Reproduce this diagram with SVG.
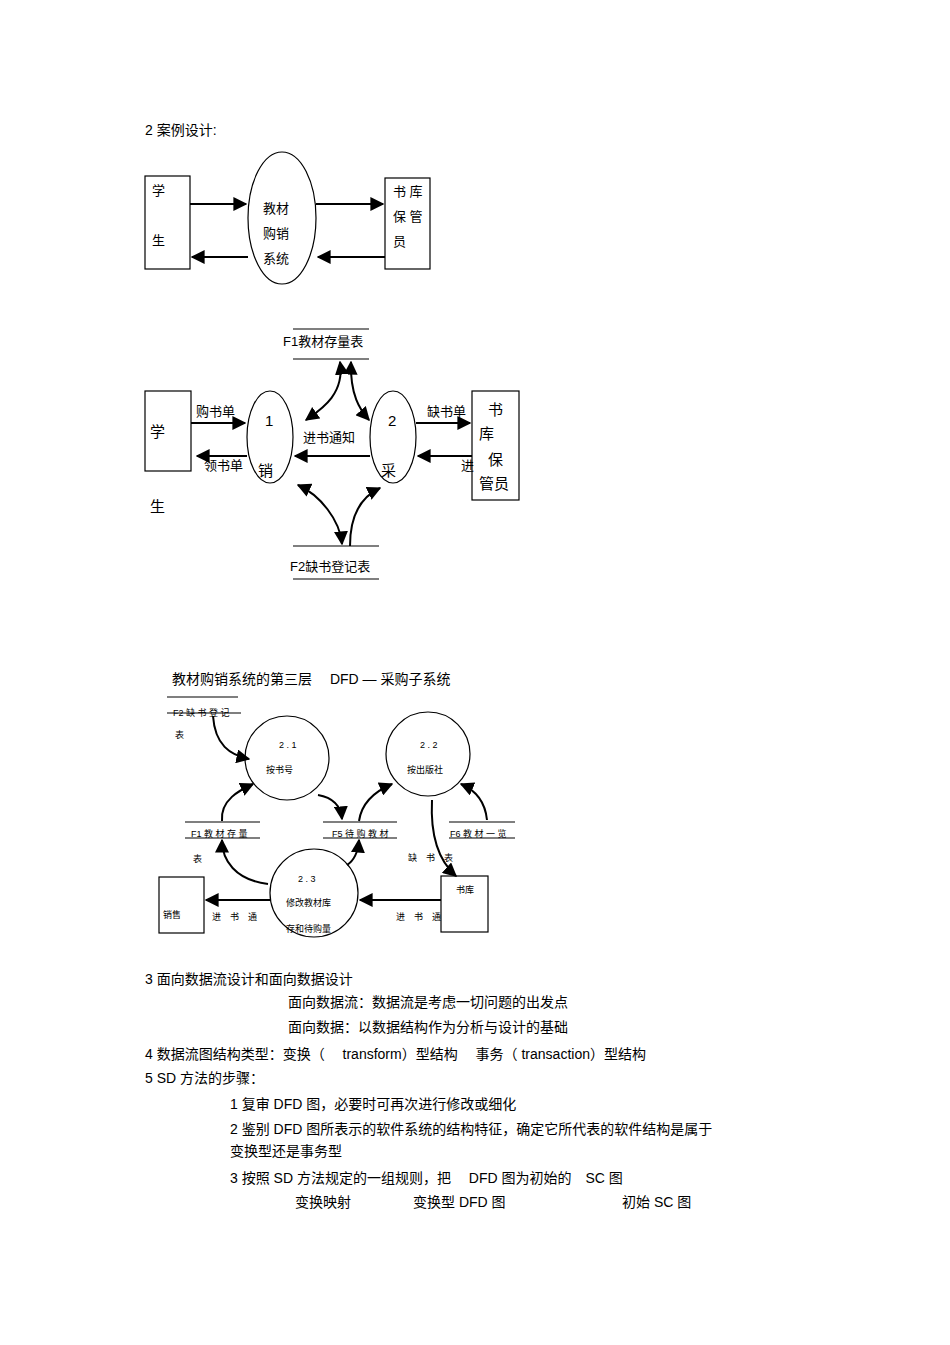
<svg xmlns="http://www.w3.org/2000/svg" width="950" height="1345" viewBox="0 0 950 1345">
<defs>
<marker id="a" viewBox="0 0 10 10" refX="9" refY="5" markerWidth="7" markerHeight="7" orient="auto-start-reverse"><path d="M0,0L10,5L0,10z" fill="#000"/></marker>
<style>
text{font-family:"Liberation Sans","Noto Sans CJK SC",sans-serif;fill:#000}
.t{font-size:14px}.s{font-size:13px}.x{font-size:9px}
.n{fill:#fff;stroke:#000;stroke-width:1.2}
.l{stroke:#000;stroke-width:1.2;fill:none}
.c{stroke:#000;stroke-width:2;fill:none;marker-end:url(#a)}
.d{stroke:#000;stroke-width:2;fill:none;marker-end:url(#a);marker-start:url(#a)}
</style>
</defs>
<rect width="950" height="1345" fill="#fff"/>
<text class="t" x="145" y="135">2 案例设计:</text>
<g id="d1-student"><rect class="n" x="145" y="176" width="45" height="93"/><text class="s" x="152" y="195">学</text><text class="s" x="152" y="245">生</text></g>
<g id="d1-system"><ellipse class="n" cx="282" cy="218" rx="34" ry="66"/><text class="s" x="263" y="213">教材</text><text class="s" x="263" y="238">购销</text><text class="s" x="263" y="263">系统</text></g>
<g id="d1-keeper"><rect class="n" x="385" y="178" width="45" height="91"/><text class="s" x="393" y="196">书 库</text><text class="s" x="393" y="221">保 管</text><text class="s" x="393" y="246">员</text></g>
<g id="d1-conn"><path class="c" d="M190,204H246"/><path class="c" d="M316,204H383"/><path class="c" d="M248,257H192"/><path class="c" d="M385,257H318"/></g>

<g id="f1"><path class="l" d="M293,329H369M293,359H369"/><text class="s" x="283" y="346">F1教材存量表</text></g>
<g id="f2"><path class="l" d="M293,546H379M293,579H379"/><text class="s" x="290" y="571">F2缺书登记表</text></g>
<g id="student"><rect class="n" x="145" y="391" width="46" height="80"/><text x="150" y="437" font-size="15">学</text><text x="150" y="512" font-size="15">生</text></g>
<g id="p1"><ellipse class="n" cx="270" cy="437" rx="23" ry="46"/><text x="265" y="426" font-size="15">1</text><text x="258" y="476" font-size="15">销</text></g>
<g id="p2"><ellipse class="n" cx="393" cy="437" rx="23" ry="46"/><text x="388" y="426" font-size="15">2</text><text x="381" y="476" font-size="15">采</text></g>
<g id="keeper"><rect class="n" x="472" y="391" width="47" height="109"/><text x="488" y="415" font-size="15">书</text><text x="479" y="439" font-size="15">库</text><text x="488" y="465" font-size="15">保</text><text x="479" y="489" font-size="15">管员</text></g>
<g id="d2-conn">
<path class="c" d="M191,423H245"/><text class="s" x="196" y="416">购书单</text>
<path class="c" d="M247,456H197"/><text class="s" x="204" y="470">领书单</text>
<path class="c" d="M416,423H470"/><text class="s" x="427" y="416">缺书单</text>
<path class="c" d="M472,456H418"/><text class="s" x="461" y="470">进</text>
<path class="c" d="M370,456H295"/><text class="s" x="303" y="442">进书通知</text>
<path class="d" d="M340,362C345,395 320,410 306,420"/>
<path class="d" d="M351,362C350,395 360,410 369,420"/>
<path class="d" d="M298,485C320,495 340,520 342,544"/>
<path class="c" d="M350,546C350,510 365,495 380,488"/>
</g>

<text class="t" x="172" y="684">教材购销系统的第三层　 DFD — 采购子系统</text>
<g id="f2b"><path class="l" d="M167,697H238M167,713H241"/><text class="x" x="173" y="716">F2 缺 书 登 记</text><text class="x" x="175" y="738">表</text></g>
<g id="f1b"><path class="l" d="M185,822H260M185,838H260"/><text class="x" x="191" y="837">F1 教 材 存 量</text><text class="x" x="193" y="862">表</text></g>
<g id="f5"><path class="l" d="M323,822H397M323,838H397"/><text class="x" x="332" y="837">F5 待 购 教 材</text><text class="x" x="328" y="862">表</text></g>
<g id="f6"><path class="l" d="M449,822H515M449,838H515"/><text class="x" x="450" y="837">F6 教 材 一 览</text><text class="x" x="408" y="861">缺　书　表</text></g>
<g id="p21"><circle class="n" cx="287" cy="758" r="42"/><text class="x" x="279" y="748">2 . 1</text><text class="x" x="266" y="773">按书号</text></g>
<g id="p22"><circle class="n" cx="428" cy="754" r="42"/><text class="x" x="420" y="748">2 . 2</text><text class="x" x="407" y="773">按出版社</text></g>
<g id="p23"><circle class="n" cx="314" cy="893" r="44"/><text class="x" x="298" y="882">2 . 3</text><text class="x" x="286" y="906">修改教材库</text><text class="x" x="286" y="932">存和待购量</text></g>
<g id="sale"><rect class="n" x="159" y="877" width="45" height="56"/><text class="x" x="163" y="918">销售</text></g>
<g id="lib"><rect class="n" x="441" y="876" width="47" height="56"/><text class="x" x="456" y="893">书库</text></g>
<g id="d3-conn">
<path class="c" d="M213,716C215,745 230,755 249,759"/>
<path class="c" d="M222,821C220,800 240,790 253,784"/>
<path class="c" d="M318,795C335,798 341,808 342,819"/>
<path class="c" d="M359,821C362,800 378,790 392,784"/>
<path class="c" d="M432,800C430,840 440,862 456,876"/>
<path class="c" d="M487,820C485,800 475,790 461,784"/>
<path class="c" d="M268,884C235,880 222,860 222,840"/>
<path class="c" d="M347,865C355,860 358,852 359,840"/>
<path class="c" d="M270,900H206"/><text class="x" x="212" y="920">进　书　通</text>
<path class="c" d="M441,900H360"/><text class="x" x="396" y="920">进　书　通</text>
</g>

<g id="text">
<text class="t" x="145" y="984">3  面向数据流设计和面向数据设计</text>
<text class="t" x="288" y="1007">面向数据流：数据流是考虑一切问题的出发点</text>
<text class="t" x="288" y="1032">面向数据：以数据结构作为分析与设计的基础</text>
<text class="t" x="145" y="1059">4 数据流图结构类型：变换（　  transform）型结构　  事务（ transaction）型结构</text>
<text class="t" x="145" y="1083">5 SD 方法的步骤：</text>
<text class="t" x="230" y="1109">1 复审  DFD 图，必要时可再次进行修改或细化</text>
<text class="t" x="230" y="1134">2 鉴别  DFD 图所表示的软件系统的结构特征，确定它所代表的软件结构是属于</text>
<text class="t" x="230" y="1156">变换型还是事务型</text>
<text class="t" x="230" y="1183">3 按照  SD 方法规定的一组规则，把　  DFD 图为初始的　SC 图</text>
<text class="t" x="295" y="1207">变换映射</text>
<text class="t" x="413" y="1207">变换型  DFD 图</text>
<text class="t" x="622" y="1207">初始  SC 图</text>
</g>
</svg>
